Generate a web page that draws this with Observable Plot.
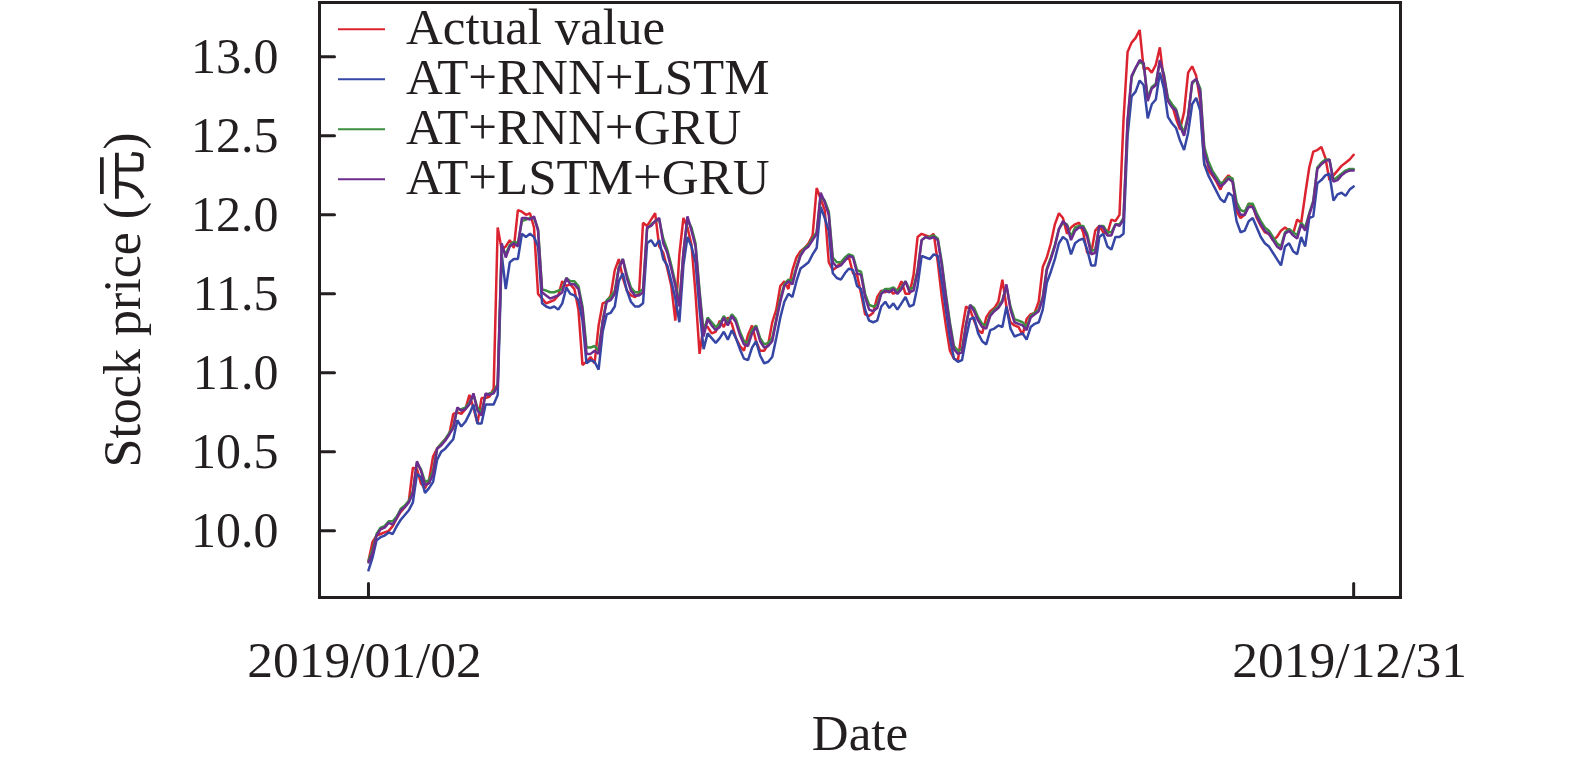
<!DOCTYPE html>
<html>
<head>
<meta charset="utf-8">
<script src="https://cdn.jsdelivr.net/npm/d3@7"></script>
<script src="https://cdn.jsdelivr.net/npm/@observablehq/plot@0.6"></script>
<style>
  html, body { margin: 0; padding: 0; background: #fff; }
  #chart { width: 1575px; height: 768px; }
</style>
</head>
<body>
<div id="chart"></div>
<script>
const seriesNames = ["Actual value", "AT+RNN+LSTM", "AT+RNN+GRU", "AT+LSTM+GRU"];
const seriesColors = ["#dc2430", "#3546a5", "#3b8f3f", "#6b2d8f"];
const xTickValues = [0, 244];
const xTickLabels = ["2019/01/02", "2019/12/31"];
const yTicks = [10.0, 10.5, 11.0, 11.5, 12.0, 12.5, 13.0];
const yLabel = "Stock price (元)";
const xLabel = "Date";

const actual = [
9.81, 9.93, 9.97, 9.98, 9.99, 10.00, 10.03, 10.08, 10.12, 10.15,
10.19, 10.40, 10.39, 10.30, 10.27, 10.32, 10.47, 10.52, 10.55, 10.58,
10.61, 10.74, 10.75, 10.74, 10.77, 10.86, 10.78, 10.68, 10.84, 10.84,
10.85, 10.90, 11.92, 11.78, 11.80, 11.84, 11.79, 12.03, 12.02, 12.00,
12.01, 11.92, 11.50, 11.47, 11.44, 11.45, 11.46, 11.49, 11.58, 11.55,
11.56, 11.53, 11.40, 11.05, 11.07, 11.10, 11.06, 11.30, 11.44, 11.45,
11.49, 11.65, 11.72, 11.60, 11.52, 11.49, 11.48, 11.50, 11.95, 11.93,
11.97, 12.01, 11.80, 11.76, 11.66, 11.55, 11.33, 11.75, 11.98, 11.92,
11.81, 11.50, 11.12, 11.30, 11.29, 11.25, 11.26, 11.33, 11.29, 11.35,
11.31, 11.22, 11.17, 11.14, 11.24, 11.30, 11.20, 11.14, 11.14, 11.18,
11.32, 11.40, 11.55, 11.58, 11.53, 11.65, 11.73, 11.77, 11.79, 11.82,
11.87, 12.17, 12.10, 12.03, 11.70, 11.65, 11.67, 11.70, 11.72, 11.73,
11.63, 11.62, 11.50, 11.37, 11.36, 11.38, 11.48, 11.52, 11.51, 11.53,
11.50, 11.52, 11.58, 11.50, 11.50, 11.62, 11.86, 11.88, 11.87, 11.86,
11.88, 11.70, 11.48, 11.30, 11.14, 11.09, 11.08, 11.27, 11.42, 11.40,
11.33, 11.27, 11.25, 11.35, 11.39, 11.41, 11.45, 11.59, 11.42, 11.32,
11.30, 11.29, 11.24, 11.34, 11.37, 11.38, 11.45, 11.67, 11.73, 11.82,
11.94, 12.01, 11.98, 11.88, 11.92, 11.94, 11.95, 11.89, 11.76, 11.76,
11.90, 11.93, 11.89, 11.88, 11.97, 11.96, 12.00, 12.60, 13.03, 13.09,
13.12, 13.17, 12.92, 12.93, 12.90, 12.95, 13.06, 12.85, 12.73, 12.70,
12.61, 12.54, 12.65, 12.90, 12.94, 12.88, 12.72, 12.32, 12.28, 12.25,
12.21, 12.16, 12.22, 12.25, 12.22, 12.02, 11.98, 12.00, 12.07, 12.06,
11.98, 11.93, 11.89, 11.88, 11.84, 11.86, 11.90, 11.92, 11.90, 11.88,
11.97, 11.95, 12.13, 12.30, 12.40, 12.41, 12.43, 12.36, 12.22, 12.25,
12.28, 12.31, 12.33, 12.35, 12.38
];

const rnnLstm = [
9.75, 9.83, 9.94, 9.96, 9.97, 9.99, 9.98, 10.03, 10.07, 10.10,
10.13, 10.18, 10.36, 10.34, 10.24, 10.27, 10.31, 10.45, 10.50, 10.52,
10.55, 10.58, 10.70, 10.66, 10.69, 10.74, 10.80, 10.68, 10.68, 10.80,
10.80, 10.80, 10.86, 11.75, 11.53, 11.70, 11.72, 11.72, 11.88, 11.86,
11.88, 11.86, 11.80, 11.44, 11.42, 11.41, 11.42, 11.40, 11.44, 11.54,
11.50, 11.49, 11.46, 11.33, 11.06, 11.08, 11.07, 11.02, 11.26, 11.37,
11.38, 11.42, 11.58, 11.63, 11.52, 11.45, 11.42, 11.42, 11.44, 11.82,
11.84, 11.80, 11.84, 11.72, 11.68, 11.58, 11.47, 11.32, 11.68, 11.86,
11.80, 11.70, 11.40, 11.15, 11.25, 11.22, 11.19, 11.22, 11.26, 11.21,
11.27, 11.22, 11.15, 11.09, 11.08, 11.16, 11.20, 11.11, 11.06, 11.07,
11.10, 11.22, 11.35, 11.45, 11.50, 11.48, 11.58, 11.66, 11.68, 11.70,
11.75, 11.79, 12.05, 11.98, 11.90, 11.63, 11.60, 11.59, 11.63, 11.66,
11.65, 11.55, 11.53, 11.40, 11.33, 11.32, 11.33, 11.42, 11.45, 11.41,
11.44, 11.40, 11.44, 11.48, 11.42, 11.43, 11.55, 11.74, 11.73, 11.72,
11.75, 11.74, 11.58, 11.40, 11.22, 11.09, 11.07, 11.08, 11.22, 11.34,
11.35, 11.25, 11.20, 11.18, 11.27, 11.28, 11.30, 11.29, 11.42, 11.28,
11.23, 11.24, 11.25, 11.21, 11.29, 11.31, 11.32, 11.40, 11.57, 11.64,
11.72, 11.82, 11.86, 11.84, 11.75, 11.82, 11.84, 11.85, 11.78, 11.68,
11.68, 11.86, 11.88, 11.80, 11.78, 11.86, 11.86, 11.88, 12.50, 12.75,
12.78, 12.85, 12.82, 12.61, 12.70, 12.73, 12.90, 12.80, 12.62, 12.58,
12.55, 12.47, 12.41, 12.52, 12.70, 12.74, 12.66, 12.32, 12.25, 12.20,
12.15, 12.10, 12.08, 12.14, 12.12, 11.96, 11.89, 11.90, 11.96, 11.98,
11.92, 11.86, 11.82, 11.80, 11.76, 11.72, 11.68, 11.80, 11.82, 11.77,
11.75, 11.86, 11.80, 11.98, 11.99, 12.20, 12.22, 12.25, 12.26, 12.09,
12.13, 12.14, 12.12, 12.16, 12.18
];

const rnnGru = [
9.81, 9.88, 9.98, 10.02, 10.03, 10.06, 10.06, 10.09, 10.14, 10.16,
10.19, 10.25, 10.43, 10.39, 10.31, 10.32, 10.38, 10.52, 10.55, 10.58,
10.62, 10.66, 10.77, 10.77, 10.78, 10.81, 10.86, 10.78, 10.75, 10.86,
10.87, 10.88, 10.93, 11.80, 11.75, 11.81, 11.83, 11.82, 11.96, 11.97,
11.98, 11.98, 11.91, 11.53, 11.52, 11.51, 11.51, 11.52, 11.53, 11.60,
11.58, 11.58, 11.55, 11.42, 11.16, 11.16, 11.17, 11.14, 11.33, 11.46,
11.48, 11.52, 11.67, 11.72, 11.62, 11.54, 11.51, 11.51, 11.53, 11.91,
11.94, 11.96, 11.97, 11.85, 11.78, 11.68, 11.57, 11.44, 11.76, 11.97,
11.92, 11.82, 11.52, 11.26, 11.35, 11.32, 11.29, 11.31, 11.36, 11.32,
11.37, 11.34, 11.26, 11.20, 11.19, 11.27, 11.30, 11.22, 11.18, 11.19,
11.22, 11.34, 11.47, 11.56, 11.59, 11.58, 11.67, 11.75, 11.79, 11.81,
11.85, 11.89, 12.12, 12.09, 12.02, 11.73, 11.70, 11.70, 11.73, 11.75,
11.74, 11.65, 11.64, 11.50, 11.43, 11.42, 11.43, 11.51, 11.53, 11.53,
11.54, 11.52, 11.54, 11.58, 11.53, 11.54, 11.65, 11.84, 11.86, 11.86,
11.87, 11.85, 11.70, 11.50, 11.32, 11.17, 11.14, 11.15, 11.31, 11.43,
11.41, 11.35, 11.31, 11.30, 11.37, 11.40, 11.42, 11.46, 11.55, 11.42,
11.34, 11.33, 11.32, 11.29, 11.36, 11.38, 11.40, 11.48, 11.66, 11.73,
11.81, 11.91, 11.95, 11.94, 11.86, 11.92, 11.93, 11.93, 11.88, 11.77,
11.78, 11.93, 11.93, 11.89, 11.89, 11.94, 11.94, 11.98, 12.58, 12.87,
12.93, 12.97, 12.95, 12.74, 12.81, 12.83, 12.97, 12.89, 12.74, 12.70,
12.67, 12.58, 12.52, 12.63, 12.83, 12.86, 12.80, 12.43, 12.34, 12.28,
12.24, 12.20, 12.21, 12.24, 12.23, 12.08, 12.03, 12.02, 12.07, 12.07,
12.01, 11.96, 11.92, 11.90, 11.86, 11.82, 11.80, 11.89, 11.91, 11.89,
11.87, 11.95, 11.92, 12.01, 12.09, 12.30, 12.33, 12.35, 12.35, 12.22,
12.24, 12.26, 12.28, 12.29, 12.29
];

const lstmGru = [
9.80, 9.86, 9.97, 10.01, 10.02, 10.05, 10.04, 10.08, 10.13, 10.15,
10.18, 10.24, 10.44, 10.38, 10.29, 10.30, 10.36, 10.52, 10.54, 10.57,
10.61, 10.65, 10.78, 10.76, 10.77, 10.80, 10.87, 10.76, 10.73, 10.87,
10.86, 10.87, 10.92, 11.82, 11.73, 11.80, 11.82, 11.80, 11.98, 11.98,
11.97, 11.99, 11.90, 11.51, 11.49, 11.47, 11.48, 11.49, 11.51, 11.60,
11.56, 11.56, 11.53, 11.40, 11.12, 11.12, 11.14, 11.12, 11.32, 11.45,
11.46, 11.50, 11.66, 11.72, 11.60, 11.52, 11.49, 11.49, 11.51, 11.92,
11.93, 11.96, 11.98, 11.82, 11.76, 11.66, 11.55, 11.42, 11.76, 11.99,
11.90, 11.80, 11.50, 11.23, 11.34, 11.30, 11.27, 11.29, 11.35, 11.30,
11.36, 11.32, 11.24, 11.18, 11.17, 11.25, 11.29, 11.20, 11.16, 11.17,
11.20, 11.33, 11.45, 11.55, 11.58, 11.56, 11.66, 11.74, 11.78, 11.80,
11.84, 11.88, 12.14, 12.08, 12.00, 11.70, 11.67, 11.68, 11.71, 11.74,
11.73, 11.63, 11.62, 11.48, 11.40, 11.39, 11.41, 11.50, 11.52, 11.51,
11.53, 11.50, 11.53, 11.58, 11.51, 11.52, 11.64, 11.84, 11.86, 11.85,
11.86, 11.84, 11.68, 11.48, 11.30, 11.15, 11.12, 11.13, 11.30, 11.43,
11.39, 11.33, 11.29, 11.28, 11.36, 11.39, 11.41, 11.45, 11.56, 11.40,
11.32, 11.31, 11.30, 11.27, 11.35, 11.37, 11.39, 11.47, 11.65, 11.72,
11.80, 11.91, 11.96, 11.93, 11.84, 11.90, 11.92, 11.92, 11.86, 11.75,
11.76, 11.93, 11.92, 11.87, 11.87, 11.94, 11.93, 11.97, 12.60, 12.88,
12.93, 12.98, 12.96, 12.72, 12.80, 12.82, 12.98, 12.88, 12.72, 12.68,
12.66, 12.56, 12.50, 12.62, 12.84, 12.86, 12.78, 12.40, 12.31, 12.26,
12.22, 12.18, 12.20, 12.23, 12.21, 12.05, 12.00, 12.00, 12.05, 12.05,
11.99, 11.94, 11.90, 11.88, 11.84, 11.80, 11.78, 11.88, 11.90, 11.87,
11.85, 11.94, 11.90, 12.00, 12.08, 12.29, 12.32, 12.34, 12.35, 12.21,
12.22, 12.25, 12.27, 12.28, 12.28
];

const seriesValues = [actual, rnnLstm, rnnGru, lstmGru];

// long table built from the named arrays
const table = [];
seriesNames.forEach((name, k) => {
  seriesValues[k].forEach((v, i) => table.push({day: i, value: v, series: name}));
});

const ink = "#231f20";
const serif = "'Liberation Serif', 'Times New Roman', 'Noto Sans CJK SC', serif";
const tickShape = {draw(context, l) { context.moveTo(0, 0); context.lineTo(0, -l); }};

const chart = Plot.plot({
  width: 1575,
  height: 768,
  marginLeft: 319,
  marginRight: 175,
  marginTop: 2,
  marginBottom: 171,
  x: {domain: [-12.13, 255.6]},
  y: {domain: [9.578, 13.344]},
  color: {domain: seriesNames, range: seriesColors},
  style: {fontFamily: serif, fontSize: "50px", color: ink, background: "white", overflow: "visible"},
  marks: [
    Plot.line(table, {x: "day", y: "value", z: "series", stroke: "series", strokeWidth: 2.5, strokeLinejoin: "miter"}),
    Plot.frame({stroke: ink, strokeWidth: 3}),
    Plot.vector(yTicks, {y: d => d, frameAnchor: "left", rotate: 90, length: 15, anchor: "start", shape: tickShape, stroke: ink, strokeWidth: 3}),
    Plot.vector(xTickValues, {x: d => d, frameAnchor: "bottom", rotate: 0, length: 14, anchor: "start", shape: tickShape, stroke: ink, strokeWidth: 3}),
    Plot.axisY({ticks: yTicks, tickSize: 0, tickPadding: 41, tickFormat: d => d.toFixed(1), label: null, fontSize: 50, fontFamily: serif, fill: ink}),
    Plot.axisX({ticks: xTickValues, tickSize: 0, tickPadding: 43, dx: -4, tickFormat: d => xTickLabels[xTickValues.indexOf(d)], label: null, fontSize: 51.5, fontFamily: serif, fill: ink}),
    Plot.text([yLabel], {text: d => d, frameAnchor: "left", textAnchor: "middle", dx: -196, rotate: -90, fontSize: 52, fontFamily: serif, fill: ink, lineAnchor: "middle"}),
    Plot.text([xLabel], {text: d => d, frameAnchor: "bottom", textAnchor: "middle", dy: 136, fontSize: 51, fontFamily: serif, fill: ink, lineAnchor: "middle"})
  ]
});

// legend inside the frame (top-left)
const svg = d3.select(chart);
const lg = svg.append("g")
  .attr("font-family", serif).attr("font-size", 51)
  .attr("fill", ink).attr("text-anchor", "start");
seriesNames.forEach((name, k) => {
  lg.append("line")
    .attr("x1", 338).attr("x2", 385)
    .attr("y1", 29.3 + 50 * k).attr("y2", 29.3 + 50 * k)
    .attr("stroke", seriesColors[k]).attr("stroke-width", 2);
  lg.append("text").attr("x", 406).attr("y", 43.5 + 50 * k).attr("text-anchor", "start").text(name);
});

document.getElementById("chart").appendChild(chart);
</script>
</body>
</html>
